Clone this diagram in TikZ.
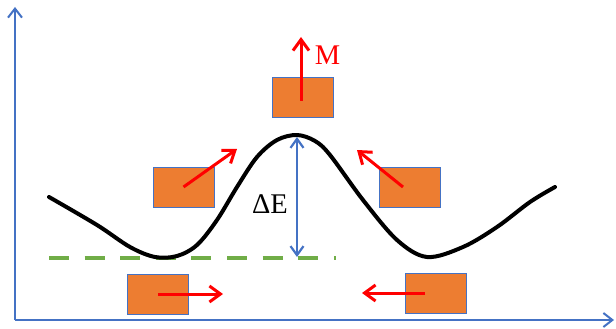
\documentclass[tikz,border=0pt]{standalone}
\usepackage{fontspec}
\setmainfont{Liberation Serif}
\usepackage{xcolor}
\usepackage{tikz}
\usetikzlibrary{arrows.meta, positioning, calc}
\definecolor{axblue}{HTML}{4472C4}
\definecolor{boxorange}{HTML}{ED7D31}
\definecolor{lvlgreen}{HTML}{70AD47}
\definecolor{arred}{HTML}{FF0000}
\tikzset{
  axis/.style={-{Straight Barb[length=9pt,width=14pt]}, line width=2pt, color=axblue},
  magbox/.style={rectangle, draw=axblue, fill=boxorange, line width=0.8pt,
    minimum width=61pt, minimum height=40pt, inner sep=0pt},
  spinarrow/.style={-{Straight Barb[length=11pt,width=16pt]}, line width=3pt, color=arred},
  gaparrow/.style={{Straight Barb[length=9pt,width=13pt]}-{Straight Barb[length=9pt,width=13pt]},
    line width=2.2pt, color=axblue},
  level/.style={line width=4pt, color=lvlgreen, dash pattern=on 20pt off 15.6pt},
  curve/.style={line width=4pt, line cap=round, line join=round, black},
  lbl/.style={font=\fontsize{28.5}{32}\selectfont, inner sep=0pt}
}
\begin{document}
\begin{tikzpicture}[x=1pt, y=-1pt]
  \useasboundingbox (0,0) rectangle (616,329);

  % Axes
  \coordinate (origin) at (15,320);
  \coordinate (ytip) at (15,7);
  \coordinate (xtip) at (614,320);
  \draw[axis] (origin) -- (ytip);
  \draw[axis] (origin) -- (xtip);

  % Energy level and barrier
  \coordinate (lvlstart) at (49,258);
  \coordinate (lvlend) at (336,258);
  \draw[level] (lvlstart) -- (lvlend);
  \draw[curve] plot[smooth, tension=0.55] coordinates {
    (49,197) (97,225) (130,247) (155,257) (177,256) (197,245) (217,220)
    (237,187) (257,157) (277,140) (297,135) (315,141) (330,155) (363,200)
    (397,240) (427,257) (463,247) (497,227) (530,202) (555,187)};
  \coordinate (peak) at (297,137);
  \coordinate (base) at (297,257);
  \draw[gaparrow] (peak) -- (base);
  \node[lbl] (dE) at (270,204.5) {ΔE};

  % Magnetic grains
  \node[magbox] (top) at (302.5,97.5) {};
  \node[magbox] (lmid) at (183.5,187) {};
  \node[magbox] (rmid) at (409.5,187) {};
  \node[magbox] (lbot) at (158,294) {};
  \node[magbox] (rbot) at (436,293) {};

  \coordinate (toptip) at (301,37);
  \coordinate (lmidtip) at (237,149);
  \coordinate (rmidtip) at (357,150);
  \coordinate (lbottip) at (223,294);
  \coordinate (rbottip) at (362,293);
  \draw[spinarrow] ([xshift=-1.5pt,yshift=-3pt]top.center) -- (toptip);
  \draw[spinarrow] (lmid.center) -- (lmidtip);
  \draw[spinarrow] ([xshift=-6.5pt]rmid.center) -- (rmidtip);
  \draw[spinarrow] (lbot.center) -- (lbottip);
  \draw[spinarrow] ([xshift=-11pt]rbot.center) -- (rbottip);
  \node[lbl, text=arred] (M) at (327.5,55) {M};
\end{tikzpicture}
\end{document}
